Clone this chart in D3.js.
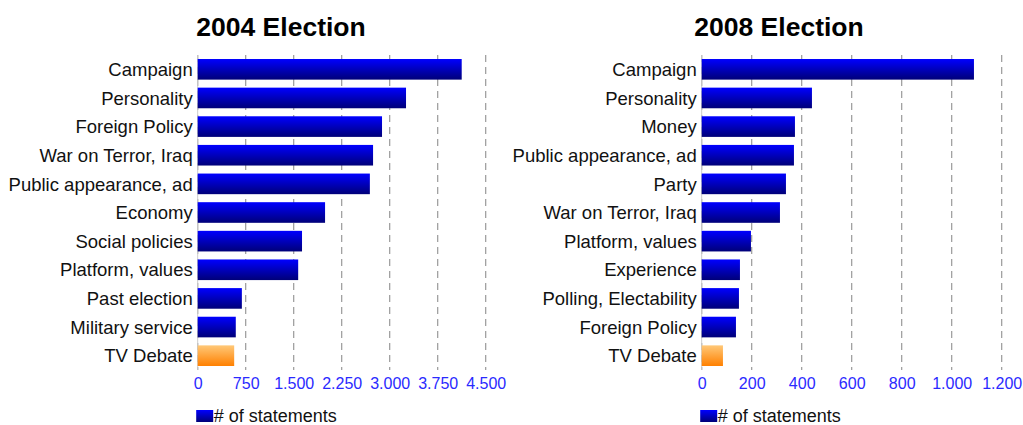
<html>
<meta charset="utf-8" />
<head>
<title>Election statements</title>
<script src="https://cdn.jsdelivr.net/npm/d3@7"></script>
<style>
body { margin: 0; background: #fff; }
text { font-family: "Liberation Sans", Arial, sans-serif; }
</style>
</head>
<body>
<svg id="chart" width="1023" height="425"></svg>
<script>
// 2004 data
const cats2004 = ['Campaign', 'Personality', 'Foreign Policy', 'War on Terror, Iraq', 'Public appearance, ad',
	'Economy', 'Social policies', 'Platform, values', 'Past election', 'Military service', 'TV Debate'];
const vals2004 = [4125, 3255, 2880, 2740, 2690, 1990, 1630, 1570, 690, 595, 570];
const ticks2004 = [0, 750, 1500, 2250, 3000, 3750, 4500];

// 2008 data
const cats2008 = ['Campaign', 'Personality', 'Money', 'Public appearance, ad', 'Party',
	'War on Terror, Iraq', 'Platform, values', 'Experience', 'Polling, Electability', 'Foreign Policy', 'TV Debate'];
const vals2008 = [1089, 441, 373, 369, 337, 313, 197, 153, 149, 137, 85];
const ticks2008 = [0, 200, 400, 600, 800, 1000, 1200];

const legendLabel = '# of statements';

const svg = d3.select('#chart');
const defs = svg.append('defs');

function grad(id, top, bottom) {
	let g = defs.append('linearGradient').attr('id', id)
		.attr('x1', 0).attr('y1', 0).attr('x2', 0).attr('y2', 1);
	g.append('stop').attr('offset', '0%').attr('stop-color', top);
	g.append('stop').attr('offset', '100%').attr('stop-color', bottom);
}
grad('blueG', '#0000ff', '#000078');
grad('orangeG', '#ffc878', '#ff8000');

// thousands separator is a dot in the original
const fmt = d3.formatLocale({ decimal: ',', thousands: '.', grouping: [3], currency: ['', ''] }).format(',');

function barChart(title, titleX, cats, vals, ticks, x0, x1) {
	let top = 55, bottom = 370;
	let xScale = d3.scaleLinear().domain([0, ticks[ticks.length - 1]]).range([x0, x1]);
	let yScale = d3.scaleBand().domain(cats).range([top, bottom]).paddingInner(0.28).paddingOuter(0.14);

	let g = svg.append('g');

	// grid
	g.append('g').selectAll('line').data(ticks).enter().append('line')
		.attr('x1', d => xScale(d)).attr('x2', d => xScale(d))
		.attr('y1', top).attr('y2', bottom)
		.attr('stroke', '#999').attr('stroke-width', 1.2)
		.attr('stroke-dasharray', '7,5');
	g.append('line').attr('x1', x0).attr('x2', x0).attr('y1', top).attr('y2', bottom)
		.attr('stroke', '#ccc');

	// tick labels
	let xAxis = d3.axisBottom(xScale).tickValues(ticks).tickSize(0).tickPadding(7).tickFormat(fmt);
	let ax = g.append('g').attr('transform', 'translate(0,' + (bottom + 1) + ')').call(xAxis);
	ax.select('.domain').remove();
	ax.attr('font-size', 16).attr('font-family', '"Liberation Sans", Arial, sans-serif');
	ax.selectAll('text').attr('fill', '#2a2aff').style('font-size', '16px');

	// bars
	g.append('g').selectAll('rect').data(vals).enter().append('rect')
		.attr('x', x0)
		.attr('y', (d, i) => yScale(cats[i]))
		.attr('width', d => xScale(d) - x0)
		.attr('height', yScale.bandwidth())
		.attr('fill', (d, i) => cats[i] == 'TV Debate' ? 'url(#orangeG)' : 'url(#blueG)');

	// category labels
	g.append('g').selectAll('text').data(cats).enter().append('text')
		.attr('x', x0 - 5)
		.attr('y', d => yScale(d) + yScale.bandwidth() / 2)
		.attr('dy', '0.36em')
		.attr('text-anchor', 'end')
		.style('font-size', '18.5px')
		.attr('fill', '#111')
		.text(d => d);

	// title
	g.append('text').attr('x', titleX).attr('y', 36)
		.attr('text-anchor', 'middle')
		.style('font-size', '26.5px').style('font-weight', 'bold')
		.text(title);

	// legend
	g.append('rect').attr('x', x0 - 1.5).attr('y', 410).attr('width', 17).attr('height', 12)
		.attr('fill', 'url(#blueG)');
	g.append('text').attr('x', x0 + 16).attr('y', 422)
		.style('font-size', '18px').attr('fill', '#111')
		.text(legendLabel);
}

barChart('2004 Election', 281, cats2004, vals2004, ticks2004, 197.7, 485.7);
barChart('2008 Election', 779, cats2008, vals2008, ticks2008, 701.7, 1001.7);
</script>
</body>
</html>
